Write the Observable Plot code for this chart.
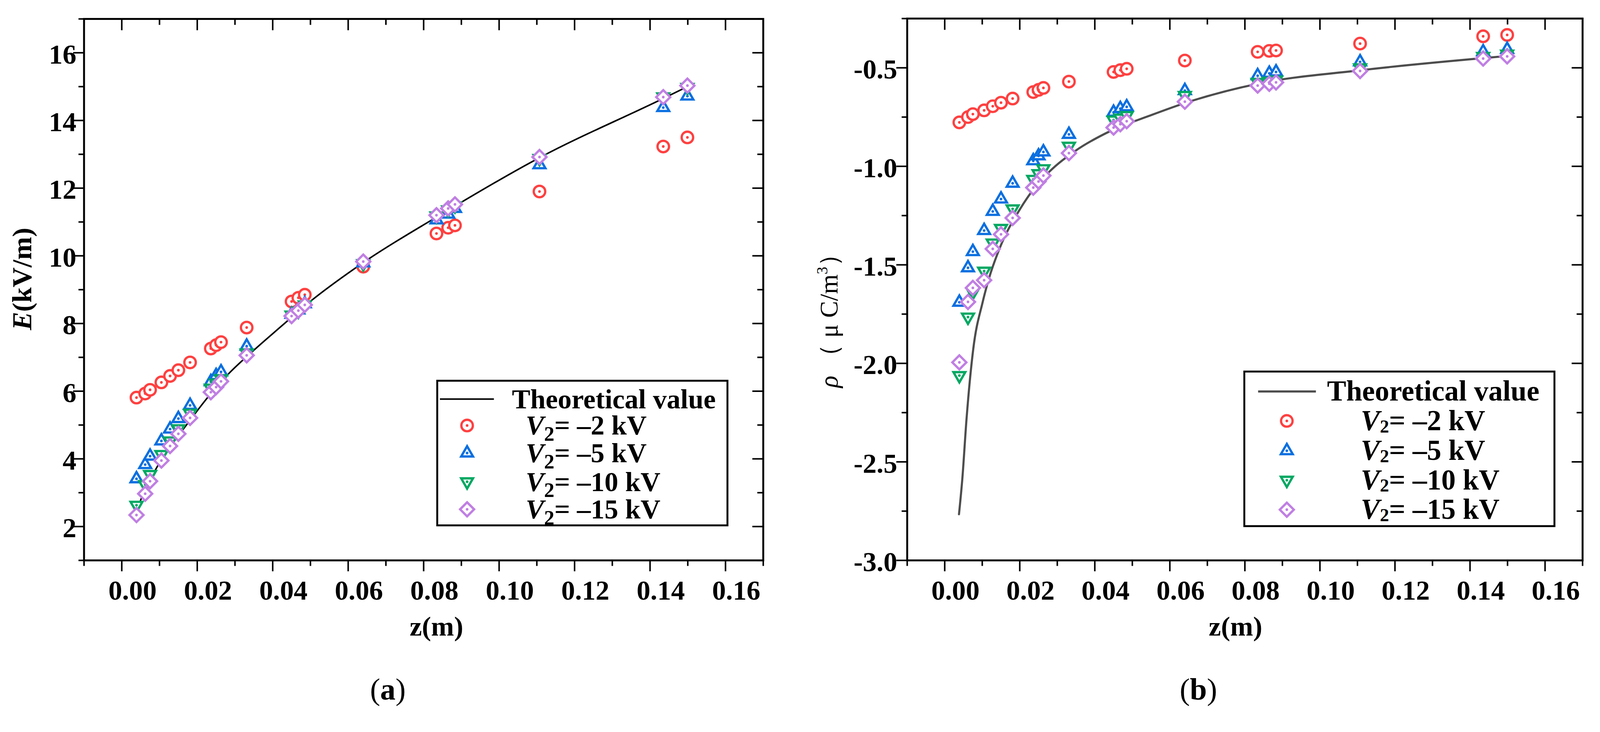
<!DOCTYPE html>
<html>
<head>
<meta charset="utf-8">
<script src="https://cdn.jsdelivr.net/npm/d3@7"></script>
<script src="https://cdn.jsdelivr.net/npm/@observablehq/plot@0.6"></script>
<style>
  html, body { margin: 0; background: #fff; overflow: hidden; }
  #page { position: relative; width: 4179px; height: 1875px; overflow: hidden; font-family: "Liberation Serif", serif; transform-origin: 0 0; }
  .panel { position: absolute; top: 0; }
  #overlay { position: absolute; left: 0; top: 0; pointer-events: none; }
</style>
</head>
<body>
<div id="page">
  <div id="pa" class="panel" style="left:0;width:2090px"></div>
  <div id="pb" class="panel" style="left:2090px;width:2089px"></div>
</div>
<script>
// measured positions along the axis (m), shared by every series
const zPts = [0.0039, 0.0062, 0.0075, 0.0105, 0.0128, 0.0150, 0.0181, 0.0236, 0.0250, 0.0263, 0.0331,
              0.0450, 0.0468, 0.0485, 0.0640, 0.0834, 0.0865, 0.0883, 0.1107, 0.1435, 0.1499];

// (a) electric field E (kV/m)
const E_2kV  = [5.81, 5.93, 6.04, 6.26, 6.45, 6.62, 6.85, 7.26, 7.36, 7.45, 7.88, 8.65, 8.76, 8.85, 9.68, 10.66, 10.83, 10.90, 11.90, 13.23, 13.50];
const E_5kV  = [3.41, 3.83, 4.08, 4.53, 4.88, 5.19, 5.58, 6.28, 6.46, 6.57, 7.33, 8.27, 8.40, 8.58, 9.79, 11.06, 11.23, 11.40, 12.69, 14.38, 14.72];
const E_10kV = [2.63, 3.24, 3.54, 4.13, 4.53, 4.89, 5.35, 6.09, 6.24, 6.37, 7.13, 8.25, 8.37, 8.55, 9.77, 11.18, 11.36, 11.48, 12.88, 14.70, 14.98];
const E_15kV = [2.34, 2.97, 3.34, 3.95, 4.38, 4.74, 5.21, 5.97, 6.12, 6.29, 7.06, 8.22, 8.38, 8.55, 9.83, 11.20, 11.40, 11.52, 12.92, 14.69, 15.03];
const zTheoryE = [0.0040, 0.0050, 0.0075, 0.0091, 0.0125, 0.0172, 0.0231, 0.0281, 0.0351, 0.0425, 0.0485, 0.0640, 0.0835, 0.1107, 0.1435, 0.1499];
const E_theory = [2.45, 2.78, 3.35, 3.71, 4.30, 5.01, 5.86, 6.49, 7.22, 7.94, 8.52, 9.80, 11.15, 12.90, 14.65, 15.00];

// (b) charge density rho (uC/m3)
const rho_2kV  = [-0.777, -0.750, -0.735, -0.716, -0.695, -0.677, -0.656, -0.623, -0.612, -0.602, -0.570, -0.521, -0.512, -0.505, -0.463, -0.419, -0.414, -0.412, -0.377, -0.340, -0.333];
const rho_5kV  = [-1.690, -1.515, -1.433, -1.326, -1.229, -1.166, -1.086, -0.972, -0.947, -0.927, -0.838, -0.726, -0.707, -0.698, -0.616, -0.540, -0.528, -0.521, -0.470, -0.419, -0.407];
const rho_10kV = [-2.062, -1.765, -1.640, -1.532, -1.389, -1.315, -1.216, -1.066, -1.037, -1.012, -0.898, -0.765, -0.755, -0.742, -0.640, -0.574, -0.568, -0.562, -0.500, -0.442, -0.430];
const rho_15kV = [-1.995, -1.688, -1.617, -1.578, -1.419, -1.345, -1.262, -1.108, -1.077, -1.047, -0.933, -0.803, -0.786, -0.771, -0.672, -0.590, -0.581, -0.574, -0.516, -0.453, -0.442];
const zTheoryRho = [0.0038, 0.0047, 0.0058, 0.0076, 0.0101, 0.0119, 0.0147, 0.0201, 0.0229, 0.0279, 0.0347, 0.0438, 0.0552, 0.0640, 0.0834, 0.1110, 0.1500];
const rho_theory = [-2.766, -2.584, -2.285, -1.928, -1.690, -1.562, -1.413, -1.216, -1.136, -1.027, -0.923, -0.824, -0.739, -0.679, -0.581, -0.512, -0.440];

// ticks
const xMajor = [0, 0.02, 0.04, 0.06, 0.08, 0.10, 0.12, 0.14, 0.16];
const xMinor = [-0.01, 0.01, 0.03, 0.05, 0.07, 0.09, 0.11, 0.13, 0.15, 0.17];
const eMajor = [2, 4, 6, 8, 10, 12, 14, 16];
const eMinor = [1, 3, 5, 7, 9, 11, 13, 15, 17];
const rhoMajor = [-3.0, -2.5, -2.0, -1.5, -1.0, -0.5];
const rhoMinor = [-2.75, -2.25, -1.75, -1.25, -0.75, -0.25];

const seriesLabels = ["2", "5", "10", "15"];
const colors = ["#ff4040", "#0a6fe0", "#00a862", "#c07fe3"];
const symbols = ["circle", "triangle", "triangle", "diamond2"];
const rotations = [0, 0, 180, 0];
const sizes = [15, 11.5, 11.5, 16.5];

const font = "Liberation Serif";
const H = 1700;

function panel(el, o) {
  const frameW = o.width - o.marginLeft - o.marginRight;
  const frameH = H - o.marginTop - o.marginBottom;
  const marks = [
    Plot.line(o.theoryZ.map((d, i) => ({z: d, v: o.theoryV[i]})),
      {x: "z", y: "v", stroke: o.lineColor, strokeWidth: o.lineWidth, curve: "monotone-x"})
  ];
  o.series.forEach((vals, k) => {
    const pts = zPts.map((d, i) => ({z: d, v: vals[i]}));
    marks.push(Plot.dot(pts, {x: "z", y: "v", symbol: symbols[k], r: sizes[k], rotate: rotations[k],
      stroke: colors[k], strokeWidth: 6, fill: "white", strokeLinejoin: "miter"}));
    marks.push(Plot.dot(pts, {x: "z", y: "v", r: 3.5, fill: colors[k], stroke: "none"}));
  });
  marks.push(
    Plot.tickX(xMajor, {x: d => d, insetBottom: frameH - 30, stroke: "black", strokeWidth: 4}),
    Plot.tickX(xMinor, {x: d => d, insetBottom: frameH - 16, stroke: "black", strokeWidth: 4}),
    Plot.tickY(o.yMajor, {y: d => d, insetLeft: frameW - 28, stroke: "black", strokeWidth: 4}),
    Plot.tickY(o.yMinor, {y: d => d, insetLeft: frameW - 15, stroke: "black", strokeWidth: 4}),
    Plot.axisX(xMajor, {tickSize: 29, strokeWidth: 4, fill: "none", tickFormat: () => "", label: null}),
    Plot.axisX(xMinor, {tickSize: 15, strokeWidth: 4, fill: "none", tickFormat: () => "", label: null}),
    Plot.axisX(xMajor, {tickSize: 0, tickPadding: 52, dx: 28, fontSize: 72, fontWeight: "bold",
      tickFormat: d => d.toFixed(2), label: null}),
    Plot.axisY(o.yMajor, {tickSize: 28, strokeWidth: 4, fill: "none", tickFormat: () => "", label: null}),
    Plot.axisY(o.yMinor, {tickSize: 14, strokeWidth: 4, fill: "none", tickFormat: () => "", label: null}),
    Plot.axisY(o.yMajor, {tickSize: 0, tickPadding: o.labelGap, dy: 5, fontSize: 72, fontWeight: "bold",
      tickFormat: o.yFormat, label: null}),
    Plot.frame({stroke: "black", strokeWidth: 5})
  );
  const chart = Plot.plot({
    width: o.width,
    height: H,
    marginLeft: o.marginLeft,
    marginRight: o.marginRight,
    marginTop: o.marginTop,
    marginBottom: o.marginBottom,
    style: {fontFamily: font, background: "transparent", overflow: "visible"},
    x: {domain: [-0.01, 0.17]},
    y: {domain: o.yDomain},
    marks
  });
  el.append(chart);
}

panel(document.getElementById("pa"), {
  width: 2090, marginLeft: 219, marginRight: 97, marginTop: 49, marginBottom: 236,
  yDomain: [1, 17], yMajor: eMajor, yMinor: eMinor, yFormat: d => String(d), labelGap: 20,
  series: [E_2kV, E_5kV, E_10kV, E_15kV], theoryZ: zTheoryE, theoryV: E_theory,
  lineColor: "#000", lineWidth: 4
});

panel(document.getElementById("pb"), {
  width: 2089, marginLeft: 279, marginRight: 46, marginTop: 48, marginBottom: 236,
  yDomain: [-3, -0.25], yMajor: rhoMajor, yMinor: rhoMinor, yFormat: d => d.toFixed(1), labelGap: 26,
  series: [rho_2kV, rho_5kV, rho_10kV, rho_15kV], theoryZ: zTheoryRho, theoryV: rho_theory,
  lineColor: "#4d4d4d", lineWidth: 5.5
});

// overlay: axis titles, captions, legends
const svg = d3.select("#page").append("svg").attr("id", "overlay")
  .attr("width", 4179).attr("height", 1875)
  .attr("font-family", font);

function ytitle(x, y, parts, size) {
  const t = svg.append("text").attr("transform", `translate(${x},${y}) rotate(-90)`)
    .attr("text-anchor", "middle").attr("font-size", size);
  parts.forEach(p => t.append("tspan").text(p.t)
    .attr("font-style", p.i ? "italic" : "normal")
    .attr("font-weight", p.b ? "bold" : "normal")
    .attr("dy", p.dy || 0).attr("font-size", p.fs || null));
}
ytitle(82, 729, [{t: "E", i: 1, b: 1}, {t: "(kV/m)", b: 1}], 72);
ytitle(2187, 822, [{t: "ρ", i: 1}, {t: " （ μ C/m"}, {t: "3", fs: 40, dy: -26}, {t: "）", dy: 26}], 66);

svg.append("text").attr("x", 1140).attr("y", 1661).attr("text-anchor", "middle")
  .attr("font-size", 72).attr("font-weight", "bold").text("z(m)");
svg.append("text").attr("x", 3227).attr("y", 1661).attr("text-anchor", "middle")
  .attr("font-size", 72).attr("font-weight", "bold").text("z(m)");

function caption(x, letter) {
  const t = svg.append("text").attr("x", x).attr("y", 1828).attr("text-anchor", "middle").attr("font-size", 80);
  t.append("tspan").text("(");
  t.append("tspan").attr("font-weight", "bold").text(letter);
  t.append("tspan").text(")");
}
caption(1013, "a");
caption(3130, "b");

function legend(o) {
  const g = svg.append("g");
  g.append("rect").attr("x", o.x).attr("y", o.y).attr("width", o.w).attr("height", o.h)
    .attr("fill", "white").attr("stroke", "black").attr("stroke-width", 5);
  g.append("line").attr("x1", o.lx1).attr("x2", o.lx2).attr("y1", o.rows[0]).attr("y2", o.rows[0])
    .attr("stroke", o.lineColor).attr("stroke-width", o.lineWidth);
  g.append("text").attr("x", o.tx0).attr("y", o.rows[0] + 24).attr("font-size", o.fs)
    .attr("font-weight", "bold").text("Theoretical value");
  seriesLabels.forEach((lab, k) => {
    const cy = o.rows[k + 1];
    const type = {circle: d3.symbolCircle, triangle: d3.symbolTriangle, diamond2: d3.symbolDiamond2}[symbols[k]];
    g.append("path").attr("d", d3.symbol(type, Math.PI * sizes[k] * sizes[k])())
      .attr("transform", `translate(${o.mx},${cy}) rotate(${rotations[k]})`)
      .attr("fill", "white").attr("stroke", colors[k]).attr("stroke-width", 6);
    g.append("circle").attr("cx", o.mx).attr("cy", cy).attr("r", 3.5).attr("fill", colors[k]);
    const t = g.append("text").attr("x", o.tx).attr("y", cy + 24).attr("font-size", o.fs).attr("font-weight", "bold");
    t.append("tspan").attr("font-style", "italic").text("V");
    t.append("tspan").attr("font-size", o.subFs).attr("dy", o.subDy).text("2");
    t.append("tspan").attr("dy", -o.subDy).text(`= \u2013${lab} kV`);
  });
}
legend({x: 1142, y: 995, w: 758, h: 378, rows: [1043, 1112, 1184, 1259, 1331],
  lx1: 1149, lx2: 1290, mx: 1220, tx0: 1337, tx: 1373, fs: 72, subFs: 54, subDy: 16,
  lineColor: "#000", lineWidth: 4});
legend({x: 3250, y: 971, w: 810, h: 404, rows: [1023, 1100, 1178, 1255, 1332],
  lx1: 3286, lx2: 3437, mx: 3361, tx0: 3466, tx: 3554, fs: 75, subFs: 48, subDy: 6,
  lineColor: "#4d4d4d", lineWidth: 5.5});

// fit the fixed 4179x1875 layout into whatever viewport the page gets
const fit = Math.min(window.innerWidth / 4179, window.innerHeight / 1875);
if (fit < 1) document.getElementById("page").style.transform = `scale(${fit})`;
</script>
</body>
</html>
